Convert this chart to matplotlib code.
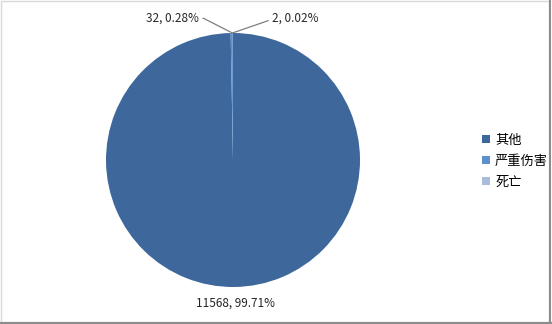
import matplotlib.pyplot as plt
from matplotlib.patches import Rectangle

plt.rcParams['font.family'] = ['Noto Sans CJK SC', 'DejaVu Sans']

categories = ['其他', '严重伤害', '死亡']
counts = [11568, 32, 2]
percents = ['99.71%', '0.28%', '0.02%']
colors = ['#3E689B', '#5A8FD0', '#A9BCDB']

fig = plt.figure(figsize=(5.52, 3.24), dpi=100)
fig.patch.set_facecolor('white')

# pie centred at about (233, 160) px, radius ~127 px
cx, cy, r = 233, 160, 127
W, H = 552, 324
ax = fig.add_axes([(cx - r) / W, (H - cy - r) / H, 2 * r / W, 2 * r / H])
wedges, _ = ax.pie(counts, colors=colors, startangle=90, counterclock=False,
                   wedgeprops=dict(linewidth=0))
ax.set_xlim(-1, 1)
ax.set_ylim(-1, 1)
ax.set_aspect('equal')
ax.axis('off')

lab = [f'{c}, {p}' for c, p in zip(counts, percents)]
top = (-0.005, 1.0)
ax.annotate(lab[1], xy=top, xytext=(-0.27, 1.115), ha='right', va='center',
            fontsize=8.5, color='#262626', annotation_clip=False,
            arrowprops=dict(arrowstyle='-', color='#7f7f7f', lw=0.9,
                            shrinkA=1, shrinkB=0,
                            connectionstyle='angle,angleA=0,angleB=-27,rad=0'))
ax.annotate(lab[2], xy=top, xytext=(0.31, 1.115), ha='left', va='center',
            fontsize=8.5, color='#262626', annotation_clip=False,
            arrowprops=dict(arrowstyle='-', color='#7f7f7f', lw=0.9,
                            shrinkA=1, shrinkB=0,
                            connectionstyle='angle,angleA=0,angleB=19,rad=0'))
ax.text(0.02, -1.125, lab[0], ha='center', va='center', fontsize=8.5,
        color='#262626')

leg = fig.legend(wedges, categories, loc='center left',
                 bbox_to_anchor=(470 / W, 1 - 161 / H), frameon=False,
                 fontsize=9.5, handlelength=0.6, handleheight=0.6,
                 handletextpad=0.4, labelspacing=0.6)

# chart frame
fig.add_artist(Rectangle((0.002, 0.006), 0.993, 0.99, transform=fig.transFigure,
                         fill=False, edgecolor='#d9d9d9', lw=1))
fig.add_artist(plt.Line2D([0.997, 0.997], [0.0, 1.0], transform=fig.transFigure,
                          color='#8c8c8c', lw=1.5))
fig.add_artist(plt.Line2D([0.0, 1.0], [0.004, 0.004], transform=fig.transFigure,
                          color='#8c8c8c', lw=1.5))

fig.savefig('out.png', dpi=100)
